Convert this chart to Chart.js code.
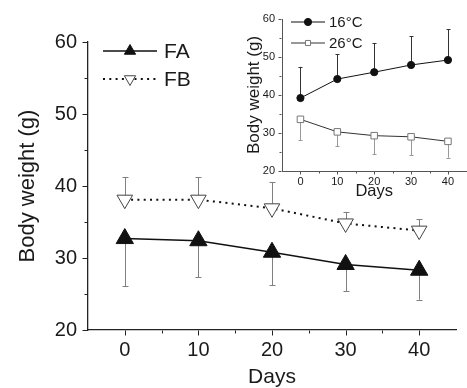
<!DOCTYPE html>
<html>
<head>
<meta charset="utf-8">
<script src="https://cdn.jsdelivr.net/npm/chart.js@4.4.1/dist/chart.umd.min.js"></script>
<style>
  html, body { margin: 0; padding: 0; background: #fff; overflow: hidden; }
  #wrap { position: relative; width: 467px; height: 388px; overflow: hidden; }
  #mainChart { position: absolute; left: 0; top: 0; }
  #insetChart { position: absolute; left: 240px; top: 0; }
</style>
</head>
<body>
<div id="wrap">
  <canvas id="mainChart" width="467" height="388"></canvas>
  <canvas id="insetChart" width="232" height="200"></canvas>
</div>
<script>
// Main panel: FA / FB body weight over days
const days = [0, 10, 20, 30, 40];
const faWeight = [32.7, 32.4, 30.8, 29.1, 28.3];
const faErrEnd = [26.1, 27.3, 26.2, 25.4, 24.2];   // lower SD bar end
const fbWeight = [38.1, 38.1, 36.9, 34.8, 33.8];
const fbErrEnd = [41.2, 41.2, 40.5, 36.4, 35.4];   // upper SD bar end

// Inset: 16 vs 26 degrees
const c16Weight = [39.2, 44.2, 46.0, 47.9, 49.2];
const c16ErrEnd = [47.4, 50.8, 53.7, 55.5, 57.3];  // upper
const c26Weight = [33.6, 30.3, 29.3, 29.0, 27.8];
const c26ErrEnd = [28.2, 26.5, 24.4, 24.1, 23.5];  // lower

// Tick values
const xMajor = [0, 10, 20, 30, 40];
const xMinor = [5, 15, 25, 35];
const yMajor = [20, 30, 40, 50, 60];
const yMinor = [25, 35, 45, 55];

const FONT = '"Liberation Sans", Arial, sans-serif';
const TEXT = '#1a1a1a';

function toXY(ys) {
    return days.map((d, i) => ({ x: d, y: ys[i] }));
}

function drawMarker(ctx, style, x, y, r, rotation, fill, stroke, lw) {
    ctx.save();
    ctx.beginPath();
    if (style === 'triangle') {
        let a = rotation * Math.PI / 180;
        for (let k = 0; k < 3; k++) {
            const px = x + Math.sin(a) * r;
            const py = y - Math.cos(a) * r;
            if (k === 0) ctx.moveTo(px, py); else ctx.lineTo(px, py);
            a += 2 * Math.PI / 3;
        }
        ctx.closePath();
    } else if (style === 'circle') {
        ctx.arc(x, y, r, 0, Math.PI * 2);
    } else {
        const s = Math.SQRT1_2 * r;
        ctx.rect(x - s, y - s, 2 * s, 2 * s);
    }
    ctx.fillStyle = fill;
    ctx.fill();
    ctx.lineWidth = lw;
    ctx.strokeStyle = stroke;
    ctx.stroke();
    ctx.restore();
}

// error bars, drawn under the markers
const errorBars = {
    id: 'errorBars',
    beforeDatasetsDraw(chart) {
        const { ctx, scales: { x, y } } = chart;
        chart.data.datasets.forEach(ds => {
            if (!ds.errEnd) return;
            ctx.save();
            ctx.strokeStyle = ds.errColor;
            ctx.lineWidth = 1;
            ds.data.forEach((p, i) => {
                const px = Math.round(x.getPixelForValue(p.x)) + 0.5;
                const y0 = y.getPixelForValue(p.y);
                const y1 = y.getPixelForValue(ds.errEnd[i]);
                ctx.beginPath();
                ctx.moveTo(px, y0);
                ctx.lineTo(px, y1);
                ctx.moveTo(px - ds.capHalf, Math.round(y1) + 0.5);
                ctx.lineTo(px + ds.capHalf, Math.round(y1) + 0.5);
                ctx.stroke();
            });
            ctx.restore();
        });
    }
};

// outward tick marks (major + minor)
const tickMarks = {
    id: 'tickMarks',
    afterDraw(chart, args, opts) {
        const { ctx, scales: { x, y } } = chart;
        ctx.save();
        ctx.strokeStyle = opts.color;
        ctx.lineWidth = 1;
        ctx.beginPath();
        const xb = Math.round(x.top) + 0.5;
        xMajor.forEach(v => {
            const px = Math.round(x.getPixelForValue(v)) + 0.5;
            ctx.moveTo(px, xb); ctx.lineTo(px, xb + opts.majorLen);
        });
        xMinor.forEach(v => {
            const px = Math.round(x.getPixelForValue(v)) + 0.5;
            ctx.moveTo(px, xb); ctx.lineTo(px, xb + opts.minorLen);
        });
        const yb = Math.round(y.right) - 0.5;
        yMajor.forEach(v => {
            const py = Math.round(y.getPixelForValue(v)) + 0.5;
            ctx.moveTo(yb, py); ctx.lineTo(yb - opts.majorLen, py);
        });
        yMinor.forEach(v => {
            const py = Math.round(y.getPixelForValue(v)) + 0.5;
            ctx.moveTo(yb, py); ctx.lineTo(yb - opts.minorLen, py);
        });
        ctx.stroke();
        ctx.restore();
    }
};

// legend: short line with the marker in the middle, then the label
const lineLegend = {
    id: 'lineLegend',
    afterDraw(chart, args, opts) {
        const ctx = chart.ctx;
        chart.data.datasets.forEach((ds, i) => {
            const yy = opts.top + i * opts.rowGap;
            ctx.save();
            ctx.strokeStyle = ds.borderColor;
            ctx.lineWidth = ds.borderWidth;
            ctx.setLineDash(ds.borderDash || []);
            ctx.beginPath();
            ctx.moveTo(opts.left, yy);
            ctx.lineTo(opts.left + opts.lineLen, yy);
            ctx.stroke();
            ctx.restore();
            drawMarker(ctx, ds.pointStyle, opts.left + opts.lineLen / 2, yy,
                opts.markerR, ds.pointRotation || 0,
                ds.pointBackgroundColor, ds.pointBorderColor, 1);
            ctx.save();
            ctx.fillStyle = TEXT;
            ctx.font = opts.fontSize + 'px ' + FONT;
            ctx.textBaseline = 'middle';
            ctx.fillText(ds.label, opts.left + opts.lineLen + opts.textGap, yy + 1);
            ctx.restore();
        });
    }
};

function axes(cfg) {
    return {
        x: {
            type: 'linear',
            min: -5, max: 45,
            afterBuildTicks: s => { s.ticks = xMajor.map(v => ({ value: v })); },
            afterFit: s => { s.height = cfg.xHeight; },
            grid: { display: false, drawTicks: false },
            border: { display: true, color: cfg.axisColor, width: cfg.axisWidth },
            ticks: { padding: cfg.xPad, color: TEXT, font: { family: FONT, size: cfg.tickSize } },
            title: {
                display: true, text: 'Days', color: TEXT,
                font: { family: FONT, size: cfg.titleX, lineHeight: 1 },
                padding: { top: 0, bottom: cfg.xTitlePad }
            }
        },
        y: {
            type: 'linear',
            min: 20, max: 60,
            afterBuildTicks: s => { s.ticks = yMajor.map(v => ({ value: v })); },
            afterFit: s => { s.width = cfg.yWidth; },
            grid: { display: false, drawTicks: false },
            border: { display: true, color: cfg.axisColor, width: cfg.axisWidth },
            ticks: { padding: cfg.yPad, color: TEXT, font: { family: FONT, size: cfg.tickSize } },
            title: {
                display: true, text: 'Body weight (g)', color: TEXT,
                font: { family: FONT, size: cfg.titleY, lineHeight: 1 },
                padding: { top: cfg.yTitlePad, bottom: 0 }
            }
        }
    };
}

new Chart(document.getElementById('mainChart'), {
    type: 'line',
    data: {
        datasets: [{
            label: 'FA',
            data: toXY(faWeight),
            errEnd: faErrEnd,
            errColor: '#808080',
            capHalf: 3,
            borderColor: '#111',
            borderWidth: 1.5,
            pointStyle: 'triangle',
            pointRadius: 10,
            pointBackgroundColor: '#111',
            pointBorderColor: '#111',
            pointBorderWidth: 1,
            clip: false
        }, {
            label: 'FB',
            data: toXY(fbWeight),
            errEnd: fbErrEnd,
            errColor: '#808080',
            capHalf: 3,
            borderColor: '#111',
            borderWidth: 2,
            borderDash: [2, 4.3],
            pointStyle: 'triangle',
            pointRotation: 180,
            pointRadius: 9,
            pointBackgroundColor: '#fff',
            pointBorderColor: '#444',
            pointBorderWidth: 1,
            clip: false
        }]
    },
    options: {
        responsive: false,
        animation: false,
        events: [],
        layout: { padding: { top: 42, left: 0, right: 0, bottom: 0 } },
        scales: axes({
            xHeight: 58, yWidth: 88, axisColor: '#222', axisWidth: 1.3,
            xPad: 8, yPad: 11, tickSize: 20, titleX: 21, titleY: 22,
            xTitlePad: 0, yTitlePad: 17
        }),
        plugins: {
            legend: { display: false },
            tooltip: { enabled: false },
            tickMarks: { color: '#222', majorLen: 5, minorLen: 3 },
            lineLegend: { left: 103, top: 51, rowGap: 28, lineLen: 54, markerR: 6.5, textGap: 7, fontSize: 21 }
        }
    },
    plugins: [errorBars, tickMarks, lineLegend]
});

new Chart(document.getElementById('insetChart'), {
    type: 'line',
    data: {
        datasets: [{
            label: '16°C',
            data: toXY(c16Weight),
            errEnd: c16ErrEnd,
            errColor: '#333',
            capHalf: 2,
            borderColor: '#111',
            borderWidth: 1,
            pointStyle: 'circle',
            pointRadius: 3.6,
            pointBackgroundColor: '#111',
            pointBorderColor: '#111',
            pointBorderWidth: 1,
            clip: false
        }, {
            label: '26°C',
            data: toXY(c26Weight),
            errEnd: c26ErrEnd,
            errColor: '#999',
            capHalf: 2,
            borderColor: '#333',
            borderWidth: 1,
            pointStyle: 'rect',
            pointRadius: 4.6,
            pointBackgroundColor: '#fff',
            pointBorderColor: '#777',
            pointBorderWidth: 1,
            clip: false
        }]
    },
    options: {
        responsive: false,
        animation: false,
        events: [],
        layout: { padding: { top: 19, left: 0, right: 0, bottom: 0 } },
        scales: axes({
            xHeight: 29, yWidth: 42, axisColor: '#555', axisWidth: 1,
            xPad: 4, yPad: 7, tickSize: 11, titleX: 16.5, titleY: 17,
            xTitlePad: 0, yTitlePad: 5.5
        }),
        plugins: {
            legend: { display: false },
            tooltip: { enabled: false },
            tickMarks: { color: '#555', majorLen: 3, minorLen: 2 },
            lineLegend: { left: 51, top: 22, rowGap: 21, lineLen: 34, markerR: 3.6, textGap: 4, fontSize: 15 }
        }
    },
    plugins: [errorBars, tickMarks, lineLegend]
});
</script>
</body>
</html>
